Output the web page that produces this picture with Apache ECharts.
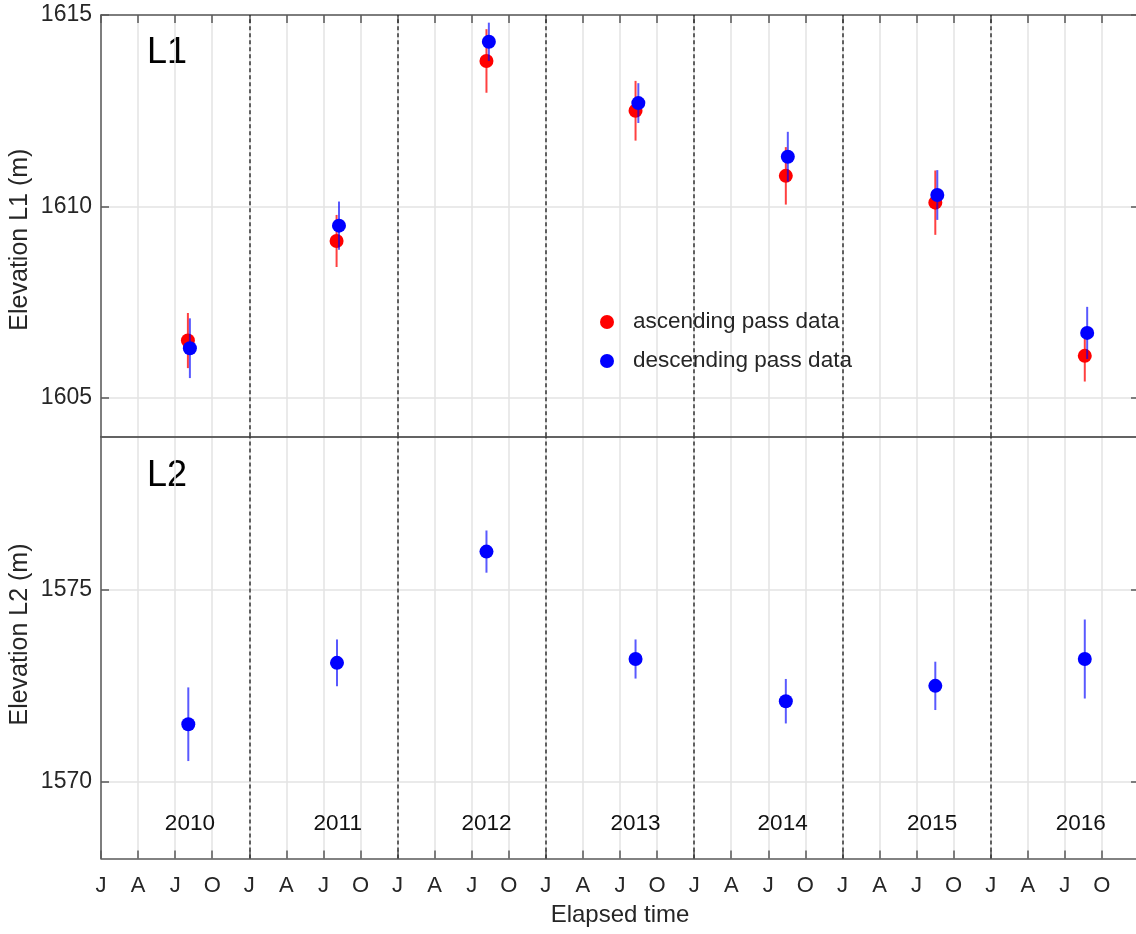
<!DOCTYPE html>
<html>
<head>
<meta charset="utf-8">
<script src="https://cdn.jsdelivr.net/npm/echarts@6/dist/echarts.min.js"></script>
<style>html,body{margin:0;padding:0;background:#fff}#c{width:1136px;height:934px}</style>
</head>
<body>
<div id="c"></div>
<script>
// ---- data ----
const ascDates  = ['2010-08-02','2011-08-03','2012-08-07','2013-08-09','2014-08-14','2015-08-17','2016-08-20'];
const ascVals   = [1606.5, 1609.1, 1613.8, 1612.5, 1610.8, 1610.1, 1606.1];
const ascErr    = [0.72, 0.68, 0.83, 0.78, 0.75, 0.84, 0.67];
const descDates = ['2010-08-07','2011-08-09','2012-08-13','2013-08-16','2014-08-19','2015-08-22','2016-08-26'];
const descVals  = [1606.3, 1609.5, 1614.3, 1612.7, 1611.3, 1610.3, 1606.7];
const descErr   = [0.78, 0.63, 0.50, 0.52, 0.65, 0.65, 0.68];
const l2Dates   = ['2010-08-03','2011-08-04','2012-08-07','2013-08-09','2014-08-14','2015-08-17','2016-08-20'];
const l2Vals    = [1571.5, 1573.1, 1576.0, 1573.2, 1572.1, 1572.5, 1573.2];
const l2Err     = [0.96, 0.61, 0.55, 0.51, 0.58, 0.63, 1.03];
const yearLabels = ['2010','2011','2012','2013','2014','2015','2016'];
const yearLabelDates = ['2010-08-07','2011-08-06','2012-08-07','2013-08-09','2014-08-06','2015-08-09','2016-08-10'];
const yearLabelLevel = 1568.9;
const yearBoundaries = ['2011-01-01','2012-01-01','2013-01-01','2014-01-01','2015-01-01','2016-01-01'];
const monthTickLabels = ['J','A','J','O'];
const l1Ticks = [1605, 1610, 1615];
const l2Ticks = [1570, 1575];
const startYear = 2010, endYear = 2017;

// date -> months since Jan of startYear
function toMonths(s){
  const [y,m,d] = s.split('-').map(Number);
  const dim = new Date(y, m, 0).getDate();
  return (y-startYear)*12 + (m-1) + (d-1)/dim;
}
const xMax = (endYear-startYear)*12;

const FONT = '"Liberation Sans", Arial, Helvetica, sans-serif';
const TXT = '#262626';
const AX = '#5a5a5a';
const GRID = '#e3e3e3';

function pts(dates, vals){ return dates.map((d,i)=>[toMonths(d), vals[i]]); }
function bars(dates, vals, errs){ return dates.map((d,i)=>[toMonths(d), vals[i]-errs[i], vals[i]+errs[i]]); }
function errRender(color){
  return function(params, api){
    const p1 = api.coord([api.value(0), api.value(1)]);
    const p2 = api.coord([api.value(0), api.value(2)]);
    return {type:'line', shape:{x1:p1[0],y1:p1[1],x2:p2[0],y2:p2[1]}, style:{stroke:color, lineWidth:2}};
  };
}
const yearLines = {
  silent:true, symbol:'none', label:{show:false},
  lineStyle:{color:'#333', type:[4,3], width:1.5},
  data: yearBoundaries.map(d=>({xAxis: toMonths(d)}))
};

function xAx(gridIndex, position, opts){
  return Object.assign({
    type:'value', gridIndex, position, min:0, max:xMax, interval:3,
    axisLine:{show:true, onZero:false, lineStyle:{color:AX, width:1.5}},
    axisTick:{show:false},
    axisLabel:{show:false},
    splitLine:{show:false}
  }, opts||{});
}
function yAx(gridIndex, position, min, max, ticks, opts){
  return Object.assign({
    type:'value', gridIndex, position, min, max,
    axisLine:{show:true, onZero:false, lineStyle:{color:AX, width:1.5}},
    axisTick:{show:true, inside:true, length:8, customValues:ticks, lineStyle:{color:AX, width:1.5}},
    axisLabel:{show:false, customValues:ticks},
    splitLine:{show:false}
  }, opts||{});
}
const tickIn = {show:true, inside:true, length:8, lineStyle:{color:AX, width:1.5}};
const yLabel = (ticks)=>({show:true, customValues:ticks, margin:9, color:TXT, fontSize:23, fontFamily:FONT,
  formatter:v=>String(v)});

const option = {
  animation:false,
  backgroundColor:'#fff',
  textStyle:{fontFamily:FONT},
  grid:[
    {left:101, top:15, width:1038, height:421.3, outerBoundsMode:'none', containLabel:false},
    {left:101, top:436.5, width:1038, height:422, outerBoundsMode:'none', containLabel:false}
  ],
  xAxis:[
    xAx(0,'bottom',{splitLine:{show:true, lineStyle:{color:GRID, width:1.5}}}),
    xAx(0,'top',{axisTick:tickIn}),
    xAx(1,'bottom',{
      axisTick:tickIn,
      splitLine:{show:true, lineStyle:{color:GRID, width:1.5}},
      axisLabel:{show:true, margin:16, color:TXT, fontSize:22, fontFamily:FONT, showMaxLabel:false,
        formatter:v=>(v>=xMax?'':monthTickLabels[Math.round(v/3)%4])},
      name:'Elapsed time', nameLocation:'middle', nameGap:45, nameMoveOverlap:false,
      nameTextStyle:{color:TXT, fontSize:24, fontFamily:FONT}
    }),
    xAx(1,'top',{})
  ],
  yAxis:[
    yAx(0,'left',1604,1615,l1Ticks,{
      axisLabel:yLabel(l1Ticks),
      splitLine:{show:true, lineStyle:{color:GRID, width:1.5}},
      name:'Elevation L1 (m)', nameLocation:'middle', nameGap:68, nameRotate:90, nameMoveOverlap:false,
      nameTextStyle:{color:TXT, fontSize:25, fontFamily:FONT, padding:[0,28,0,0]}
    }),
    yAx(0,'right',1604,1615,l1Ticks,{}),
    yAx(1,'left',1568,1579,l2Ticks,{
      axisLabel:yLabel(l2Ticks),
      splitLine:{show:true, lineStyle:{color:GRID, width:1.5}},
      name:'Elevation L2 (m)', nameLocation:'middle', nameGap:68, nameRotate:90, nameMoveOverlap:false,
      nameTextStyle:{color:TXT, fontSize:25, fontFamily:FONT, padding:[0,0,0,26]}
    }),
    yAx(1,'right',1568,1579,l2Ticks,{})
  ],
  legend:{
    data:['ascending pass data','descending pass data'],
    orient:'vertical', left:595, top:305,
    itemWidth:14, itemHeight:14, itemGap:15, icon:'circle',
    textStyle:{fontSize:22.5, color:TXT, fontFamily:FONT, lineHeight:24, padding:[0,0,0,14]},
    selectedMode:false
  },
  graphic:[
    {type:'text', x:147, y:35, style:{text:'L1', fontSize:36, fontFamily:FONT, fill:'#000', textVerticalAlign:'top'}},
    {type:'text', x:147, y:458, style:{text:'L2', fontSize:36, fontFamily:FONT, fill:'#000', textVerticalAlign:'top'}}
  ],
  series:[
    {type:'custom', name:'asc err', xAxisIndex:0, yAxisIndex:0, renderItem:errRender('rgba(255,0,0,0.75)'),
      data:bars(ascDates, ascVals, ascErr), z:2, silent:true},
    {type:'scatter', name:'ascending pass data', xAxisIndex:0, yAxisIndex:0, symbol:'circle', symbolSize:14,
      itemStyle:{color:'#ff0000', opacity:1}, data:pts(ascDates, ascVals), z:3},
    {type:'custom', name:'desc err', xAxisIndex:0, yAxisIndex:0, renderItem:errRender('rgba(0,0,255,0.65)'),
      data:bars(descDates, descVals, descErr), z:4, silent:true},
    {type:'scatter', name:'descending pass data', xAxisIndex:0, yAxisIndex:0, symbol:'circle', symbolSize:14,
      itemStyle:{color:'#0000ff', opacity:1}, data:pts(descDates, descVals), z:5, markLine:yearLines},
    {type:'custom', name:'L2 err', xAxisIndex:2, yAxisIndex:2, renderItem:errRender('rgba(0,0,255,0.65)'),
      data:bars(l2Dates, l2Vals, l2Err), z:4, silent:true},
    {type:'scatter', name:'L2 descending', xAxisIndex:2, yAxisIndex:2, symbol:'circle', symbolSize:14,
      itemStyle:{color:'#0000ff', opacity:1}, data:pts(l2Dates, l2Vals), z:5, markLine:yearLines},
    {type:'scatter', name:'years', xAxisIndex:2, yAxisIndex:2, symbolSize:0, silent:true,
      itemStyle:{opacity:1},
      data:yearLabelDates.map((d,i)=>({value:[toMonths(d), yearLabelLevel], name:yearLabels[i]})),
      label:{show:true, position:'inside', formatter:p=>p.name, color:'#111', fontSize:22.5, fontFamily:FONT, opacity:1}}
  ]
};
const chart = echarts.init(document.getElementById('c'), null, {renderer:'canvas'});
chart.setOption(option);
</script>
</body>
</html>
